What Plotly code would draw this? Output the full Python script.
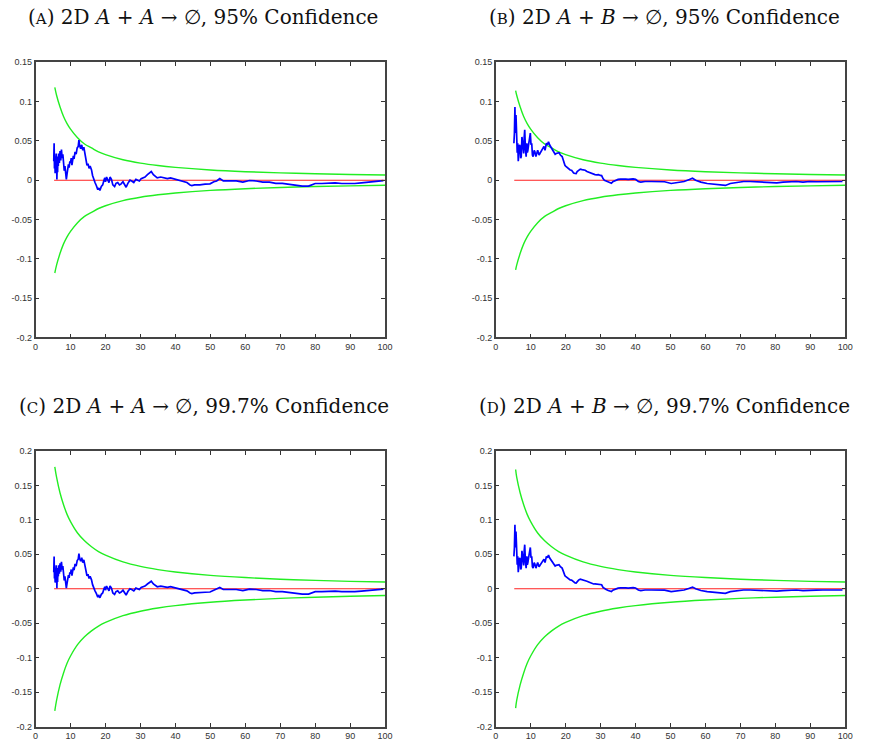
import plotly.graph_objects as go

# ---------------- data ----------------
# Blue series, A + A -> empty set (panels A and C)
x_aa = [5.2, 5.3, 5.4, 5.5, 5.6, 5.7, 5.8, 5.9, 6.0, 6.1, 6.2, 6.3, 6.4, 6.5, 6.6, 6.8, 7.0, 7.2, 7.4, 7.6,
        7.8, 8.0, 8.2, 8.4, 8.6, 8.8, 9.0, 9.2, 9.4, 9.6, 9.8, 10.0, 10.2, 10.4, 10.6, 10.8, 11.0, 11.3, 11.6, 11.9,
        12.2, 12.4, 12.6, 12.9, 13.2, 13.5, 13.8, 14.1, 14.4, 14.7, 15.0, 15.3, 15.6, 16.0, 16.3, 16.6, 17.0, 17.4, 17.8, 18.1,
        18.4, 18.8, 19.2, 19.5, 19.8, 20.0, 20.3, 20.6, 21.0, 21.3, 21.7, 22.1, 22.6, 23.0, 23.5, 24.0, 24.4, 25.0, 25.5, 25.9,
        26.4, 27.0, 27.5, 28.1, 28.7, 29.2, 29.7, 30.2, 30.6, 31.3, 32.0, 32.6, 33.1, 33.7, 34.2, 34.8, 35.8, 36.7, 37.7, 38.6,
        39.5, 40.5, 41.4, 42.3, 43.3, 44.2, 44.7, 45.5, 47.0, 48.5, 49.9, 51.0, 51.8, 52.7, 53.7, 55.6, 57.4, 59.3, 61.2, 63.1,
        65.0, 66.9, 68.7, 70.6, 72.5, 74.4, 76.3, 78.1, 80.0, 81.9, 83.8, 85.7, 87.6, 89.4, 91.3, 93.2, 95.1, 97.0, 98.4, 99.5]
y_aa = [0.024, 0.047, 0.015, 0.030, 0.009, 0.028, 0.012, 0.034, 0.020, 0.001, 0.025, 0.010, 0.030, 0.018, 0.034, 0.022, 0.037, 0.025, 0.039, 0.028,
        0.033, 0.020, 0.012, 0.018, 0.006, 0.001, 0.008, 0.013, 0.020, 0.016, 0.024, 0.022, 0.028, 0.019, 0.026, 0.031, 0.027, 0.036, 0.033, 0.041,
        0.043, 0.051, 0.044, 0.040, 0.045, 0.038, 0.042, 0.033, 0.024, 0.019, 0.021, 0.015, 0.018, 0.013, 0.006, 0.001, -0.003, -0.007, -0.012, -0.010,
        -0.013, -0.008, -0.006, -0.001, 0.003, -0.002, 0.004, 0.001, -0.003, 0.004, 0.001, -0.006, -0.008, -0.004, -0.003, -0.006, -0.005, -0.002, -0.006, -0.009,
        -0.004, 0.000, -0.001, -0.003, 0.001, 0.000, -0.001, 0.002, 0.003, 0.004, 0.007, 0.009, 0.011, 0.007, 0.005, 0.003, 0.004, 0.003, 0.002, 0.003,
        0.002, 0.001, 0.000, -0.001, -0.003, -0.006, -0.007, -0.006, -0.006, -0.005, -0.0046, -0.002, -0.001, 0.002, -0.001, -0.001, -0.001, -0.0025, -0.0004, -0.001,
        -0.0025, -0.0025, -0.004, -0.004, -0.0055, -0.0067, -0.0076, -0.0076, -0.0042, -0.0042, -0.0034, -0.0034, -0.0042, -0.0046, -0.0042, -0.0034, -0.0025, -0.0013, -0.0008, -0.0005]

# Blue series, A + B -> empty set (panels B and D)
x_ab = [5.2, 5.35, 5.5, 5.6, 5.8, 5.9, 6.0, 6.15, 6.3, 6.45, 6.6, 6.8, 7.0, 7.15, 7.3, 7.5, 7.7, 7.85, 8.0, 8.15,
        8.3, 8.5, 8.7, 8.9, 9.05, 9.2, 9.4, 9.6, 9.8, 9.9, 10.1, 10.3, 10.5, 10.7, 11.0, 11.2, 11.5, 11.8, 12.0, 12.4,
        12.8, 13.2, 13.5, 13.8, 14.1, 14.5, 14.8, 15.1, 15.4, 15.7, 16.0, 16.4, 16.7, 17.0, 17.3, 17.7, 18.1, 18.5, 19.0, 19.3,
        19.5, 19.8, 20.0, 20.5, 20.9, 21.3, 21.7, 22.3, 22.7, 23.0, 23.3, 23.7, 24.2, 24.7, 25.2, 25.6, 26.1, 26.6, 27.0, 27.5,
        28.0, 28.4, 28.9, 29.4, 29.9, 30.3, 30.7, 31.1, 31.6, 32.2, 32.7, 33.1, 33.5, 33.9, 34.5, 35.0, 35.7, 36.4, 37.2, 37.9,
        38.6, 39.3, 40.0, 40.8, 41.5, 42.7, 44.5, 46.4, 48.3, 50.2, 52.1, 53.9, 55.4, 56.3, 57.2, 58.7, 60.5, 62.4, 64.3, 65.7,
        67.1, 69.0, 70.9, 72.8, 74.7, 76.6, 78.5, 80.4, 82.2, 84.1, 86.0, 87.9, 89.8, 91.7, 93.6, 95.4, 97.3, 99.2]
y_ab = [0.047, 0.060, 0.093, 0.060, 0.083, 0.065, 0.055, 0.035, 0.047, 0.024, 0.034, 0.045, 0.043, 0.028, 0.030, 0.055, 0.047, 0.038, 0.034, 0.055,
        0.064, 0.040, 0.030, 0.047, 0.035, 0.038, 0.045, 0.051, 0.058, 0.060, 0.045, 0.047, 0.032, 0.030, 0.038, 0.036, 0.030, 0.036, 0.038, 0.032,
        0.035, 0.038, 0.040, 0.043, 0.038, 0.047, 0.045, 0.049, 0.045, 0.043, 0.040, 0.037, 0.036, 0.033, 0.034, 0.035, 0.035, 0.032, 0.030, 0.026,
        0.022, 0.019, 0.018, 0.016, 0.014, 0.013, 0.0126, 0.0092, 0.0085, 0.0084, 0.011, 0.0126, 0.014, 0.0134, 0.013, 0.0126, 0.011, 0.010, 0.009, 0.0084,
        0.007, 0.0071, 0.0068, 0.0071, 0.006, 0.0059, 0.002, 0.000, -0.001, -0.0025, -0.003, -0.004, -0.002, -0.001, 0.0005, 0.001, 0.0013, 0.0017, 0.0013, 0.001,
        0.0017, 0.0017, 0.0012, -0.0017, -0.0025, -0.0017, -0.0017, -0.002, -0.002, -0.0042, -0.0025, -0.0017, 0.0008, 0.0025, 0.000, -0.0025, -0.0042, -0.005, -0.0055, -0.0067,
        -0.0042, -0.0025, -0.0017, -0.0017, -0.002, -0.0025, -0.0025, -0.0034, -0.0025, -0.0017, -0.0017, -0.0025, -0.0017, -0.002, -0.0017, -0.0017, -0.002, -0.0017]

# Green confidence bounds
x_bound_a = [5.5, 6, 7, 8, 9, 10, 12, 14, 16, 18, 20, 25, 30, 35, 40, 50, 60, 70, 80, 90, 100]
x_bound_b = [5.7, 6, 7, 8, 9, 10, 12, 14, 16, 18, 20, 25, 30, 35, 40, 50, 60, 70, 80, 90, 100]
up_95 = [0.118, 0.108, 0.093, 0.081, 0.072, 0.065, 0.054, 0.046, 0.041, 0.036, 0.0325, 0.026, 0.0217, 0.0186, 0.0163, 0.013, 0.0108, 0.0093, 0.0081, 0.0072, 0.0065]
lo_95 = [-0.118, -0.108, -0.093, -0.081, -0.072, -0.065, -0.054, -0.046, -0.041, -0.036, -0.0325, -0.026, -0.0217, -0.0186, -0.0163, -0.013, -0.0108, -0.0093, -0.0081, -0.0072, -0.0065]
up_997 = [0.177, 0.162, 0.139, 0.122, 0.108, 0.0975, 0.081, 0.0696, 0.061, 0.054, 0.0488, 0.039, 0.0325, 0.0279, 0.0244, 0.0195, 0.0163, 0.0139, 0.0122, 0.0108, 0.0098]
lo_997 = [-0.177, -0.162, -0.139, -0.122, -0.108, -0.0975, -0.081, -0.0696, -0.061, -0.054, -0.0488, -0.039, -0.0325, -0.0279, -0.0244, -0.0195, -0.0163, -0.0139, -0.0122, -0.0108, -0.0098]
up_95_b = [0.114, 0.108, 0.093, 0.081, 0.072, 0.065, 0.054, 0.046, 0.041, 0.036, 0.0325, 0.026, 0.0217, 0.0186, 0.0163, 0.013, 0.0108, 0.0093, 0.0081, 0.0072, 0.0065]
lo_95_b = [-0.114, -0.108, -0.093, -0.081, -0.072, -0.065, -0.054, -0.046, -0.041, -0.036, -0.0325, -0.026, -0.0217, -0.0186, -0.0163, -0.013, -0.0108, -0.0093, -0.0081, -0.0072, -0.0065]
up_997_b = [0.173, 0.162, 0.139, 0.122, 0.108, 0.0975, 0.081, 0.0696, 0.061, 0.054, 0.0488, 0.039, 0.0325, 0.0279, 0.0244, 0.0195, 0.0163, 0.0139, 0.0122, 0.0108, 0.0098]
lo_997_b = [-0.173, -0.162, -0.139, -0.122, -0.108, -0.0975, -0.081, -0.0696, -0.061, -0.054, -0.0488, -0.039, -0.0325, -0.0279, -0.0244, -0.0195, -0.0163, -0.0139, -0.0122, -0.0108, -0.0098]

zero_x = [5.3, 100]
zero_y = [0, 0]

x_ticks = [0, 10, 20, 30, 40, 50, 60, 70, 80, 90, 100]
x_tick_text = ["0", "10", "20", "30", "40", "50", "60", "70", "80", "90", "100"]
y_ticks_top = [-0.2, -0.15, -0.1, -0.05, 0, 0.05, 0.1, 0.15]
y_tick_text_top = ["-0.2", "-0.15", "-0.1", "-0.05", "0", "0.05", "0.1", "0.15"]
y_ticks_bot = [-0.2, -0.15, -0.1, -0.05, 0, 0.05, 0.1, 0.15, 0.2]
y_tick_text_bot = ["-0.2", "-0.15", "-0.1", "-0.05", "0", "0.05", "0.1", "0.15", "0.2"]

titles = [
    "(<span style='font-size:15px'>A</span>) 2D <i>A</i> + <i>A</i> → ∅, 95% Confidence",
    "(<span style='font-size:15px'>B</span>) 2D <i>A</i> + <i>B</i> → ∅, 95% Confidence",
    "(<span style='font-size:15px'>C</span>) 2D <i>A</i> + <i>A</i> → ∅, 99.7% Confidence",
    "(<span style='font-size:15px'>D</span>) 2D <i>A</i> + <i>B</i> → ∅, 99.7% Confidence",
]

# ---------------- figure ----------------
W, H = 874, 745
fig = go.Figure()

panels = [
    ("x", "y", x_aa, y_aa, x_bound_a, up_95, lo_95),
    ("x2", "y2", x_ab, y_ab, x_bound_b, up_95_b, lo_95_b),
    ("x3", "y3", x_aa, y_aa, x_bound_a, up_997, lo_997),
    ("x4", "y4", x_ab, y_ab, x_bound_b, up_997_b, lo_997_b),
]

for xa, ya, bx, by, gx, gu, gl in panels:
    fig.add_trace(go.Scatter(x=gx, y=gu, mode="lines", line=dict(color="#22ee22", width=1.4, shape="spline"),
                             xaxis=xa, yaxis=ya, hoverinfo="skip"))
    fig.add_trace(go.Scatter(x=gx, y=gl, mode="lines", line=dict(color="#22ee22", width=1.4, shape="spline"),
                             xaxis=xa, yaxis=ya, hoverinfo="skip"))
    fig.add_trace(go.Scatter(x=zero_x, y=zero_y, mode="lines", line=dict(color="#ff2020", width=1.1),
                             xaxis=xa, yaxis=ya, hoverinfo="skip"))
    fig.add_trace(go.Scatter(x=bx, y=by, mode="lines", line=dict(color="#0000ff", width=1.7),
                             xaxis=xa, yaxis=ya, hoverinfo="skip"))

left_dom = [33 / W, 387 / W]
right_dom = [499 / W, 853 / W]
top_dom = [1 - 337 / H, 1 - 58 / H]
bot_dom = [1 - 731.5 / H, 1 - 452 / H]

tick_font = dict(family="Liberation Sans, Arial, sans-serif", size=9, color="#333333")

def xax(dom, anchor):
    return dict(domain=dom, anchor=anchor, range=[0, 100], tickvals=x_ticks, ticktext=x_tick_text,
                ticks="inside", ticklen=4, tickwidth=1, tickcolor="#333333", showline=True, linecolor="#444444",
                linewidth=1.5, mirror="ticks", showgrid=False, zeroline=False, tickfont=tick_font, fixedrange=True)

def yax(dom, anchor, rng, tv, tt):
    return dict(domain=dom, anchor=anchor, range=rng, tickvals=tv, ticktext=tt,
                ticks="inside", ticklen=4, tickwidth=1, tickcolor="#333333", showline=True, linecolor="#444444",
                linewidth=1.5, mirror="ticks", showgrid=False, zeroline=False, tickfont=tick_font, fixedrange=True)

fig.update_layout(
    width=W, height=H, margin=dict(l=0, r=0, t=0, b=0),
    paper_bgcolor="white", plot_bgcolor="white", showlegend=False,
    xaxis=xax(left_dom, "y"), yaxis=yax(top_dom, "x", [-0.2, 0.15], y_ticks_top, y_tick_text_top),
    xaxis2=xax(right_dom, "y2"), yaxis2=yax(top_dom, "x2", [-0.2, 0.15], y_ticks_top, y_tick_text_top),
    xaxis3=xax(left_dom, "y3"), yaxis3=yax(bot_dom, "x3", [-0.2, 0.2], y_ticks_bot, y_tick_text_bot),
    xaxis4=xax(right_dom, "y4"), yaxis4=yax(bot_dom, "x4", [-0.2, 0.2], y_ticks_bot, y_tick_text_bot),
)

title_pos = [(203, 12), (670, 12), (204, 406), (670, 406)]
for txt, (cx, cy) in zip(titles, title_pos):
    fig.add_annotation(text=txt, x=cx / W, y=1 - cy / H, xref="paper", yref="paper",
                       xanchor="center", yanchor="middle", showarrow=False,
                       font=dict(family="DejaVu Serif, Liberation Serif, serif", size=20, color="#111111"))

fig.write_html("out.html")
